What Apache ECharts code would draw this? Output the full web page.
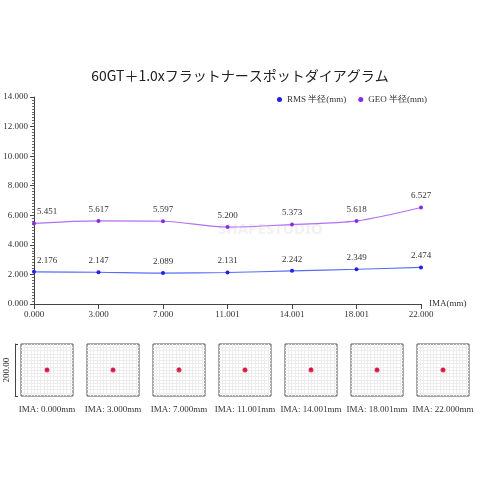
<!DOCTYPE html>
<html><head><meta charset="utf-8">
<script src="https://cdn.jsdelivr.net/npm/echarts@6/dist/echarts.min.js"></script>
<style>html,body{margin:0;padding:0;background:#fff}#c{width:480px;height:480px}</style>
</head><body><div id="c"></div>
<script>
var categories = ['0.000','3.000','7.000','11.001','14.001','18.001','22.000'];
var rmsValues = [2.176, 2.147, 2.089, 2.131, 2.242, 2.349, 2.474];
var geoValues = [5.451, 5.617, 5.597, 5.200, 5.373, 5.618, 6.527];
var spotLabels = ['IMA: 0.000mm','IMA: 3.000mm','IMA: 7.000mm','IMA: 11.001mm','IMA: 14.001mm','IMA: 18.001mm','IMA: 22.000mm'];
var spotRed = [[0,0],[0,0],[0,0],[0,0],[0,0],[0,0],[0,0]];
var spotBlue = [[0,2],[0,2],[0,4],[0,2],[0,4],[0,2],[0,2]];
var fieldSize = '200.00';

var serif = 'Liberation Serif';
function withFirstLabelRight(vals){
  return vals.map(function(v,i){
    return i===0 ? {value:v, label:{offset:[13,0]}} : v;
  });
}
var grids = [{left:34, right:59, top:97, bottom:176}];
var xAxes = [{
  type:'category', data:categories, boundaryGap:false, gridIndex:0,
  name:'IMA(mm)', nameLocation:'end', nameGap:8,
  nameTextStyle:{fontFamily:serif, fontSize:9, color:'#333'},
  axisLine:{lineStyle:{color:'#444'}},
  axisTick:{show:true, alignWithLabel:true, lineStyle:{color:'#444'}},
  axisLabel:{fontFamily:serif, fontSize:9, color:'#333', margin:6, interval:0},
  splitLine:{show:false}
}];
var yAxes = [{
  type:'value', min:0, max:14, interval:2, gridIndex:0,
  axisLine:{show:true, lineStyle:{color:'#444'}},
  axisTick:{show:true, length:4, lineStyle:{color:'#444'}},
  minorTick:{show:true, splitNumber:10, length:2, lineStyle:{color:'#666'}},
  axisLabel:{fontFamily:serif, fontSize:9, color:'#333', margin:6, formatter:function(v){return v.toFixed(3);}},
  splitLine:{show:false}
}];
var lbl = {show:true, position:'top', fontFamily:serif, fontSize:9, color:'#333', formatter:function(p){return p.value.toFixed(3);}};
var series = [
  {name:'RMS 半径(mm)', type:'line', xAxisIndex:0, yAxisIndex:0, data:withFirstLabelRight(rmsValues), smooth:0.3,
   symbol:'circle', symbolSize:4, itemStyle:{color:'#2020e8'}, lineStyle:{color:'#5a6cf5', width:1.2}, label:lbl},
  {name:'GEO 半径(mm)', type:'line', xAxisIndex:0, yAxisIndex:0, data:withFirstLabelRight(geoValues), smooth:0.3,
   symbol:'circle', symbolSize:4, itemStyle:{color:'#8a2be2'}, lineStyle:{color:'#b070f5', width:1.2}, label:lbl}
];
for (var i=0;i<7;i++){
  var gi = i+1;
  grids.push({left:21+i*66, top:344, width:52, height:52, show:true, borderColor:'#555', borderWidth:1});
  xAxes.push({type:'value', gridIndex:gi, min:-100, max:100, interval:12.5,
    name:spotLabels[i], nameLocation:'middle', nameGap:9,
    nameTextStyle:{fontFamily:serif, fontSize:9, color:'#333'},
    axisLine:{show:false}, axisTick:{show:false}, axisLabel:{show:false},
    splitLine:{show:true, showMinLine:false, showMaxLine:false, lineStyle:{color:'#ededed', width:1}}});
  yAxes.push({type:'value', gridIndex:gi, min:-100, max:100, interval:12.5,
    axisLine:{show:false}, axisTick:{show:false}, axisLabel:{show:false},
    splitLine:{show:true, showMinLine:false, showMaxLine:false, lineStyle:{color:'#ededed', width:1}}});
  series.push({type:'scatter', xAxisIndex:gi, yAxisIndex:gi, data:[spotBlue[i]], symbolSize:3, itemStyle:{color:'#3030e0'}, silent:true});
  series.push({type:'scatter', xAxisIndex:gi, yAxisIndex:gi, data:[spotRed[i]], symbolSize:5, itemStyle:{color:'#e8002a'}, silent:true});
}
yAxes.push({type:'value', gridIndex:1, min:-100, max:100, interval:200, position:'left', offset:6,
  name:fieldSize, nameLocation:'middle', nameGap:4, nameRotate:90,
  nameTextStyle:{fontFamily:serif, fontSize:9, color:'#333'},
  axisLine:{show:true, lineStyle:{color:'#444'}},
  axisTick:{show:true, length:3, inside:true, lineStyle:{color:'#444'}},
  axisLabel:{show:false}, splitLine:{show:false}});

var chart = echarts.init(document.getElementById('c'), null, {renderer:'canvas'});
chart.setOption({
  backgroundColor:'#fff',
  animation:false,
  title:{text:'60GT＋1.0xフラットナースポットダイアグラム', left:'center', top:64,
    textStyle:{fontFamily:'Noto Sans CJK JP', fontSize:14, fontWeight:'normal', color:'#222'}},
  legend:{data:['RMS 半径(mm)','GEO 半径(mm)'], right:48, top:90, itemWidth:5, itemHeight:5, itemGap:12,
    icon:'circle', textStyle:{fontFamily:serif, fontSize:9, color:'#333'}},
  graphic:[{type:'text', left:218, top:222, z:-1, style:{text:'SHAPESTUDIO', fontSize:15, fontFamily:'Noto Sans', fontWeight:'bold', fill:'rgba(215,215,220,0.35)'}}],
  grid:grids, xAxis:xAxes, yAxis:yAxes, series:series
});
</script></body></html>
